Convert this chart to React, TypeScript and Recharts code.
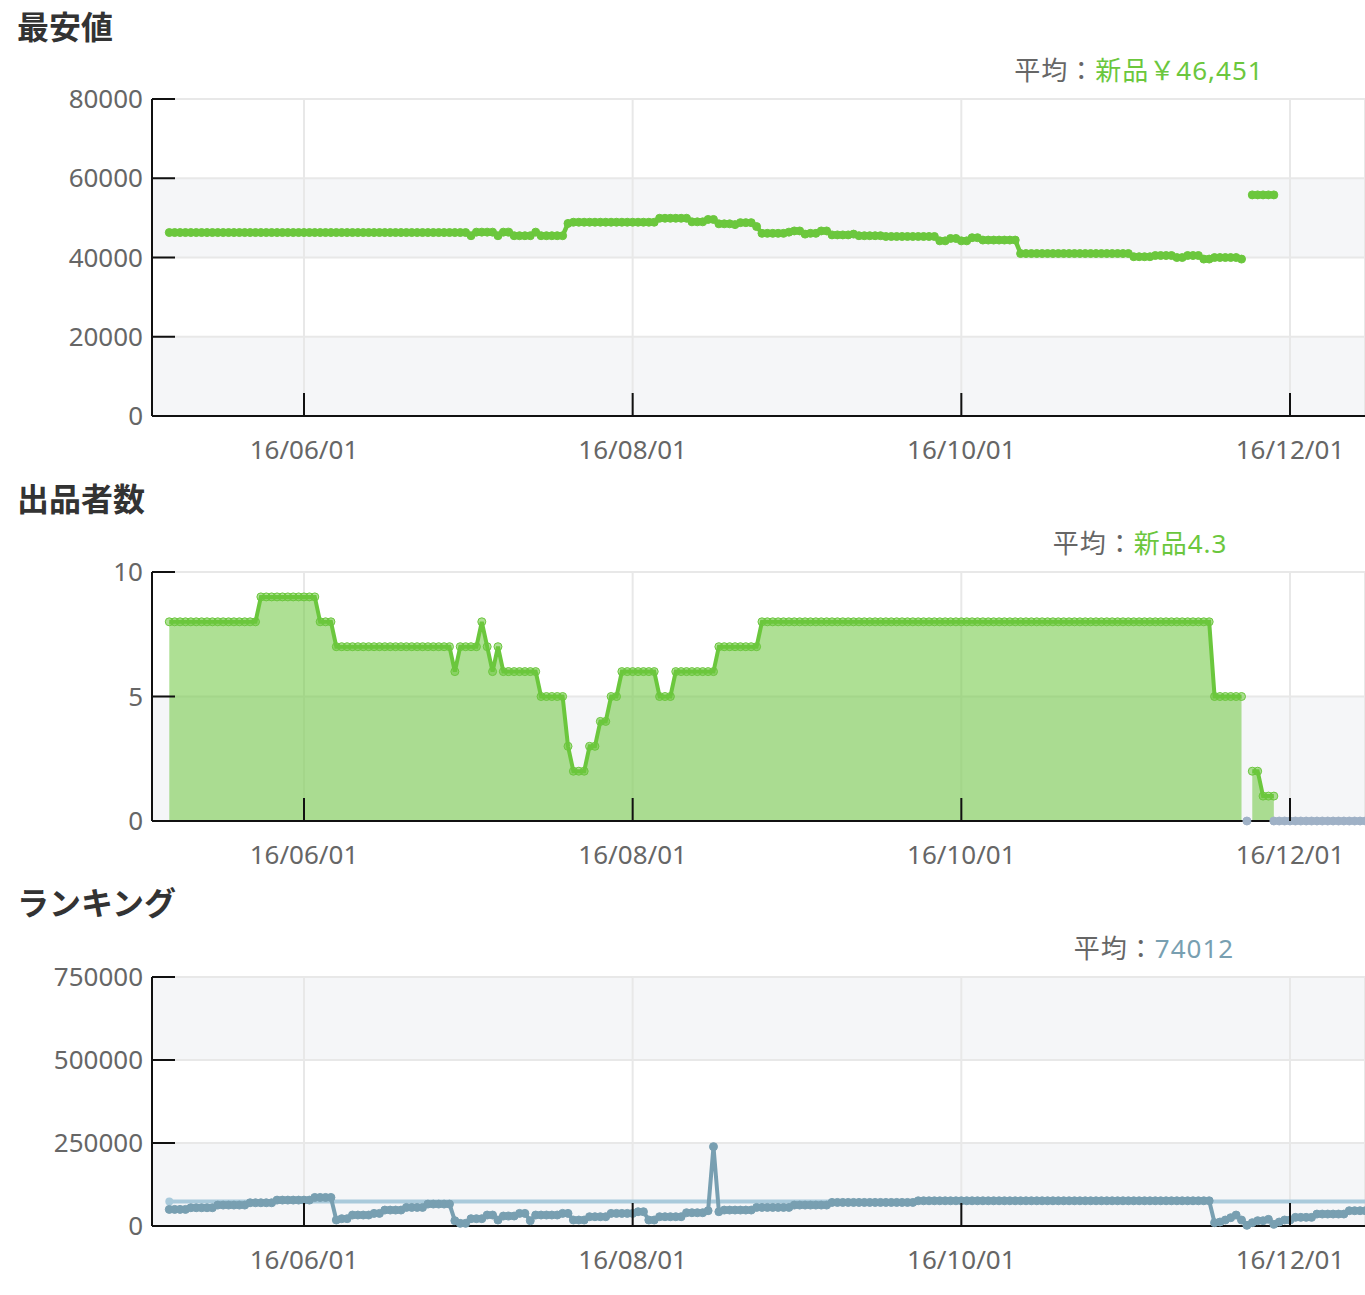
import { ComposedChart, Line, Area, XAxis, YAxis, CartesianGrid } from "recharts"

// daily samples, first one on 2016-05-07
const firstSample = "2016-05-07"
const usedFirstSample = "2016-11-23"

const xTickLabels = ["16/06/01", "16/08/01", "16/10/01", "16/12/01"]
// visible window in days since 2016-05-01
const xDomain: [number, number] = [2.79, 227.92]

const priceTicks = [0, 20000, 40000, 60000, 80000]
const countTicks = [0, 5, 10]
const rankTicks = [0, 250000, 500000, 750000]

const priceAvg = "￥46,451"
const countAvg = "4.3"
const rankAvg = 74012

// 最安値 (新品)
const priceNew = [
  46300, 46300, 46300, 46300, 46300, 46300, 46300, 46300, 46300, 46300,
  46300, 46300, 46300, 46300, 46300, 46300, 46300, 46300, 46300, 46300,
  46300, 46300, 46300, 46300, 46300, 46300, 46300, 46300, 46300, 46300,
  46300, 46300, 46300, 46300, 46300, 46300, 46300, 46300, 46300, 46300,
  46300, 46300, 46300, 46300, 46300, 46300, 46300, 46300, 46300, 46300,
  46300, 46300, 46300, 46300, 46300, 46300, 45500, 46400, 46400, 46400,
  46400, 45500, 46400, 46400, 45500, 45500, 45500, 45500, 46400, 45500,
  45500, 45500, 45500, 45500, 48600, 48900, 48900, 48900, 48900, 48900,
  48900, 48900, 48900, 48900, 48900, 48900, 48900, 48900, 48900, 48900,
  48900, 49900, 49900, 49900, 49900, 49900, 49900, 49000, 49000, 49000,
  49600, 49600, 48500, 48500, 48500, 48300, 48800, 48800, 48800, 47800,
  46100, 46100, 46100, 46100, 46100, 46400, 46700, 46700, 45900, 46100,
  46100, 46700, 46700, 45700, 45700, 45700, 45700, 45900, 45500, 45500,
  45500, 45500, 45500, 45300, 45300, 45300, 45300, 45300, 45300, 45300,
  45300, 45300, 45300, 44200, 44200, 44800, 44800, 44200, 44200, 45000,
  45000, 44400, 44400, 44400, 44400, 44400, 44400, 44400, 41000, 41000,
  41000, 41000, 41000, 41000, 41000, 41000, 41000, 41000, 41000, 41000,
  41000, 41000, 41000, 41000, 41000, 41000, 41000, 41000, 41000, 40200,
  40200, 40200, 40200, 40500, 40500, 40500, 40500, 40000, 40000, 40500,
  40500, 40500, 39600, 39600, 40000, 40000, 40000, 40000, 40000, 39600,
  null, 55800, 55800, 55800, 55800, 55800,
]

// 出品者数 (新品)
const sellersNew = [
  8, 8, 8, 8, 8, 8, 8, 8, 8, 8,
  8, 8, 8, 8, 8, 8, 8, 9, 9, 9,
  9, 9, 9, 9, 9, 9, 9, 9, 8, 8,
  8, 7, 7, 7, 7, 7, 7, 7, 7, 7,
  7, 7, 7, 7, 7, 7, 7, 7, 7, 7,
  7, 7, 7, 6, 7, 7, 7, 7, 8, 7,
  6, 7, 6, 6, 6, 6, 6, 6, 6, 5,
  5, 5, 5, 5, 3, 2, 2, 2, 3, 3,
  4, 4, 5, 5, 6, 6, 6, 6, 6, 6,
  6, 5, 5, 5, 6, 6, 6, 6, 6, 6,
  6, 6, 7, 7, 7, 7, 7, 7, 7, 7,
  8, 8, 8, 8, 8, 8, 8, 8, 8, 8,
  8, 8, 8, 8, 8, 8, 8, 8, 8, 8,
  8, 8, 8, 8, 8, 8, 8, 8, 8, 8,
  8, 8, 8, 8, 8, 8, 8, 8, 8, 8,
  8, 8, 8, 8, 8, 8, 8, 8, 8, 8,
  8, 8, 8, 8, 8, 8, 8, 8, 8, 8,
  8, 8, 8, 8, 8, 8, 8, 8, 8, 8,
  8, 8, 8, 8, 8, 8, 8, 8, 8, 8,
  8, 8, 8, 8, 5, 5, 5, 5, 5, 5,
  null, 2, 2, 1, 1, 1,
]

// 出品者数 (中古), from 2016-11-23
const sellersUsed = [
  0, null, null, null, null, 0, 0, 0, 0, 0,
  0, 0, 0, 0, 0, 0, 0, 0, 0, 0,
  0, 0, 0,
]

// ランキング
const ranking = [
  50000, 50000, 50000, 50000, 55000, 55000, 55000, 55000, 55000, 63000,
  63000, 63000, 63000, 63000, 63000, 70000, 70000, 70000, 70000, 70000,
  78000, 78000, 78000, 78000, 78000, 78000, 78000, 86000, 86000, 86000,
  86000, 18000, 22000, 22000, 33000, 33000, 33000, 33000, 38000, 38000,
  48000, 48000, 48000, 48000, 56000, 56000, 56000, 56000, 66000, 66000,
  66000, 66000, 66000, 16000, 8000, 8000, 22000, 22000, 22000, 33000,
  33000, 18000, 30000, 30000, 30000, 38000, 38000, 16000, 33000, 33000,
  33000, 33000, 33000, 38000, 38000, 18000, 18000, 18000, 28000, 28000,
  28000, 28000, 38000, 38000, 38000, 38000, 38000, 43000, 43000, 18000,
  18000, 28000, 28000, 28000, 28000, 28000, 40000, 40000, 40000, 40000,
  46000, 239000, 43000, 48000, 48000, 48000, 48000, 48000, 48000, 56000,
  56000, 56000, 56000, 56000, 56000, 56000, 63000, 63000, 63000, 63000,
  63000, 63000, 63000, 71000, 71000, 71000, 71000, 71000, 71000, 71000,
  71000, 71000, 71000, 71000, 71000, 71000, 71000, 71000, 71000, 76000,
  76000, 76000, 76000, 76000, 76000, 76000, 76000, 76000, 76000, 76000,
  76000, 76000, 76000, 76000, 76000, 76000, 76000, 76000, 76000, 76000,
  76000, 76000, 76000, 76000, 76000, 76000, 76000, 76000, 76000, 76000,
  76000, 76000, 76000, 76000, 76000, 76000, 76000, 76000, 76000, 76000,
  76000, 76000, 76000, 76000, 76000, 76000, 76000, 76000, 76000, 76000,
  76000, 76000, 76000, 76000, 10000, 12000, 18000, 25000, 33000, 18000,
  2000, 10000, 16000, 16000, 20000, 5000, 12000, 18000, 18000, 26000,
  26000, 26000, 26000, 36000, 36000, 36000, 36000, 36000, 36000, 46000,
  46000, 46000, 46000,
]

const GREEN = "#6bc73d"
const USED = "#9fb1c6"
const RANK = "#789fb1"
const AVG = "#a9cadb"

const BASE = Date.UTC(2016, 4, 1)
const dayOfIso = (s: string) => {
  const [y, m, d] = s.split("-").map(Number)
  return (Date.UTC(y, m - 1, d) - BASE) / 86400000
}
const dayOfLabel = (s: string) => {
  const [y, m, d] = s.split("/").map(Number)
  return (Date.UTC(2000 + y, m - 1, d) - BASE) / 86400000
}
const xTickDays = xTickLabels.map(dayOfLabel)

const rows = (vals: (number | null)[], start: string) =>
  vals.map((v, i) => ({ d: dayOfIso(start) + i, v }))

const priceRows = rows(priceNew, firstSample)
const sellersRows = rows(sellersNew, firstSample)
const usedRows = rows(sellersUsed, usedFirstSample)
const rankRows = rows(ranking, firstSample)
const avgRows = [
  { d: rankRows[0].d, v: rankAvg },
  { d: rankRows[rankRows.length - 1].d, v: rankAvg },
]

const tickFont = { fontFamily: "'Noto Sans', sans-serif", fontSize: 26, fill: "#666" }

function YTick(props: any) {
  const { y, payload } = props
  return (
    <g>
      <line x1={152} x2={175} y1={y} y2={y} stroke="#111" strokeWidth={2} />
      <text x={143} y={y} dy="0.35em" textAnchor="end" {...tickFont}>
        {payload.value}
      </text>
    </g>
  )
}

function XTick(props: any) {
  const { x, payload, bottom } = props
  const label = xTickLabels[xTickDays.indexOf(payload.value)]
  return (
    <g>
      <line x1={x} x2={x} y1={bottom - 23} y2={bottom} stroke="#111" strokeWidth={2} />
      <text x={x} y={bottom + 34} dy="0.35em" textAnchor="middle" {...tickFont}>
        {label}
      </text>
    </g>
  )
}

function Panel({ top, height, plotTop, axisH, yTicks, fills, children }: any) {
  const bottom = height - axisH
  return (
    <div style={{ position: "absolute", left: 0, top }}>
      <ComposedChart
        width={1365}
        height={height}
        margin={{ top: plotTop, right: 0, bottom: 0, left: 0 }}
        style={{ overflow: "visible" }}
      >
        <CartesianGrid stroke="#e8e8e8" strokeWidth={2} horizontalFill={fills} fillOpacity={1} />
        <XAxis
          type="number"
          dataKey="d"
          domain={xDomain}
          allowDataOverflow
          ticks={xTickDays}
          interval={0}
          height={axisH}
          axisLine={{ stroke: "#111", strokeWidth: 2 }}
          tickLine={false}
          tick={<XTick bottom={bottom} />}
        />
        <YAxis
          type="number"
          domain={[yTicks[0], yTicks[yTicks.length - 1]]}
          ticks={yTicks}
          interval={0}
          width={152}
          axisLine={{ stroke: "#111", strokeWidth: 2 }}
          tickLine={false}
          tick={<YTick />}
        />
        {children}
      </ComposedChart>
    </div>
  )
}

const titleStyle: any = {
  position: "absolute",
  left: 17,
  fontFamily: "'Noto Sans CJK JP', sans-serif",
  fontWeight: 700,
  fontSize: 32,
  lineHeight: "32px",
  color: "#333",
  whiteSpace: "nowrap",
}

const avgStyle: any = {
  position: "absolute",
  transform: "translateX(-50%)",
  fontFamily: "'Noto Sans', 'Noto Sans CJK JP', sans-serif",
  fontSize: 26,
  lineHeight: "26px",
  letterSpacing: 1,
  color: "#666",
  whiteSpace: "nowrap",
}

const dot = (c: string) => ({ r: 4, fill: c, stroke: c, strokeWidth: 1 })

export default function App() {
  return (
    <div style={{ position: "absolute", left: 0, top: 0, width: 1365, height: 1295, overflow: "hidden", background: "#fff" }}>
      <div style={{ ...titleStyle, top: 9 }}>最安値</div>
      <div style={{ ...avgStyle, left: 1139, top: 57 }}>
        平均：<span style={{ color: GREEN }}>新品{priceAvg}</span>
      </div>
      <Panel top={0} height={470} plotTop={99} axisH={54} yTicks={priceTicks} fills={["#ffffff", "#f5f6f8"]}>
        <Line
          data={priceRows}
          dataKey="v"
          type="linear"
          stroke={GREEN}
          strokeWidth={4.5}
          dot={dot(GREEN)}
          activeDot={false}
          connectNulls={false}
          isAnimationActive={false}
        />
      </Panel>

      <div style={{ ...titleStyle, top: 481 }}>出品者数</div>
      <div style={{ ...avgStyle, left: 1140, top: 530 }}>
        平均：<span style={{ color: GREEN }}>新品{countAvg}</span>
      </div>
      <Panel top={470} height={405} plotTop={102} axisH={54} yTicks={countTicks} fills={["#ffffff", "#f5f6f8"]}>
        <Area
          data={sellersRows}
          dataKey="v"
          type="linear"
          stroke={GREEN}
          strokeWidth={4}
          fill={GREEN}
          fillOpacity={0.55}
          dot={dot(GREEN)}
          activeDot={false}
          connectNulls={false}
          isAnimationActive={false}
        />
        <Line
          data={usedRows}
          dataKey="v"
          type="linear"
          stroke={USED}
          strokeWidth={4}
          dot={dot(USED)}
          activeDot={false}
          connectNulls={false}
          isAnimationActive={false}
        />
      </Panel>

      <div style={{ ...titleStyle, top: 885 }}>ランキング</div>
      <div style={{ ...avgStyle, left: 1154, top: 935 }}>
        平均：<span style={{ color: RANK }}>{rankAvg}</span>
      </div>
      <Panel top={875} height={415} plotTop={102} axisH={64} yTicks={rankTicks} fills={["#f5f6f8", "#ffffff"]}>
        <Line
          data={avgRows}
          dataKey="v"
          type="linear"
          stroke={AVG}
          strokeWidth={4}
          dot={(p: any) =>
            p.index === 0 ? (
              <circle key="avg-start" cx={p.cx} cy={p.cy} r={4} fill={AVG} />
            ) : (
              <g key={"avg-" + p.index} />
            )
          }
          activeDot={false}
          isAnimationActive={false}
        />
        <Line
          data={rankRows}
          dataKey="v"
          type="linear"
          stroke={RANK}
          strokeWidth={4}
          dot={dot(RANK)}
          activeDot={false}
          isAnimationActive={false}
        />
      </Panel>
    </div>
  )
}
